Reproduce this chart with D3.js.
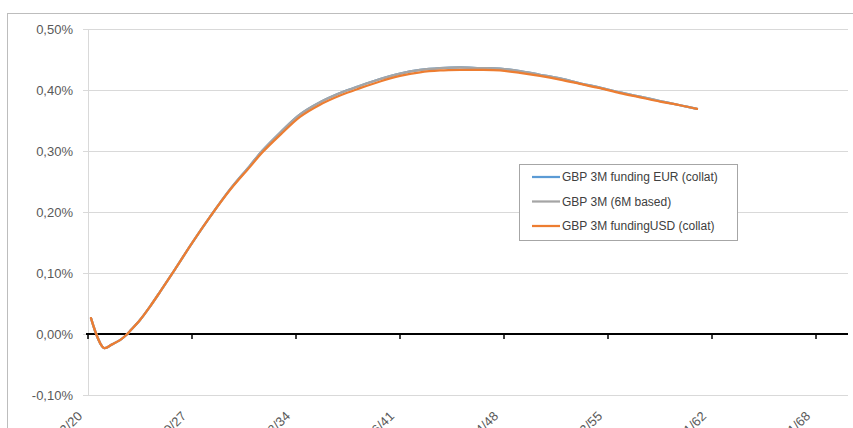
<!DOCTYPE html>
<html><head><meta charset="utf-8">
<script src="https://cdn.jsdelivr.net/npm/d3@7"></script>
<style>body{margin:0;background:#fff}svg{display:block}</style>
</head><body>
<script>
// x = days from first tick date (10/12/2020)
const days = [72,385,577,769,913,1010,1250,1490,1731,2091,2500,2933,3413,3894,4183,4615,5096,5577,6058,6538,7019,7500,7981,8462,8942,9423,9904,10385,10865,11346,11827,12308,12788,13269,13750,14231,14639];
const usdCollat = [0.026,-0.023,-0.017,-0.010,-0.002,0.005,0.023,0.045,0.069,0.106,0.149,0.192,0.236,0.274,0.297,0.326,0.356,0.376,0.391,0.403,0.414,0.423,0.429,0.432,0.433,0.433,0.432,0.428,0.423,0.417,0.410,0.403,0.395,0.388,0.381,0.375,0.369];
const eurCollat = [0.026,-0.023,-0.017,-0.010,-0.002,0.005,0.023,0.045,0.069,0.106,0.149,0.192,0.237,0.276,0.300,0.330,0.360,0.380,0.395,0.407,0.418,0.427,0.433,0.436,0.437,0.436,0.435,0.431,0.425,0.419,0.411,0.404,0.396,0.389,0.382,0.375,0.369];
const sixMBased = [0.026,-0.023,-0.017,-0.010,-0.002,0.005,0.023,0.045,0.069,0.106,0.149,0.192,0.237,0.276,0.300,0.330,0.360,0.380,0.395,0.407,0.418,0.427,0.433,0.436,0.437,0.436,0.435,0.431,0.425,0.419,0.411,0.404,0.396,0.389,0.382,0.375,0.369];
const seriesNames = ["GBP 3M funding EUR (collat)","GBP 3M (6M based)","GBP 3M fundingUSD (collat)"];
const seriesColors = ["#5b9bd5","#a5a5a5","#ed7d31"];
const yTicks = [-0.10,0.00,0.10,0.20,0.30,0.40,0.50];
const xTickDays = [0,2500,5000,7500,10000,12500,15000,17500];
const xTickLabels = ["10/12/20","15/10/27","19/08/34","23/06/41","27/04/48","02/03/55","04/01/62","08/11/68"];

const W=853,H=428;
const svg=d3.select("body").append("svg").attr("width",W).attr("height",H);
const font="Liberation Sans, Arial, sans-serif";
// outer chart border
svg.append("rect").attr("x",7.5).attr("y",13.5).attr("width",900).attr("height",500)
  .attr("fill","none").attr("stroke","#bdbdbd").attr("stroke-width",1);

const x=d3.scaleLinear().domain([0,18269]).range([88,848]);
const y=d3.scaleLinear().domain([-0.10,0.50]).range([395,29]);

// gridlines + y ticks
svg.append("g").selectAll("line").data(yTicks).join("line")
  .attr("x1",83).attr("x2",848).attr("y1",d=>Math.round(y(d))+0.5).attr("y2",d=>Math.round(y(d))+0.5)
  .attr("stroke","#d9d9d9").attr("stroke-width",1);
svg.append("line").attr("x1",88.5).attr("x2",88.5).attr("y1",y(0.5)).attr("y2",y(-0.1))
  .attr("stroke","#d9d9d9");
svg.append("g").selectAll("text").data(yTicks).join("text")
  .attr("x",73).attr("y",d=>y(d)+4.5).attr("text-anchor","end")
  .attr("font-family",font).attr("font-size",13).attr("fill","#595959")
  .text(d=>d.toFixed(2).replace(".",",")+"%");

// zero axis with ticks
const z=Math.round(y(0));
svg.append("line").attr("x1",86).attr("x2",848).attr("y1",z).attr("y2",z).attr("stroke","#000").attr("stroke-width",2);
svg.append("g").selectAll("line").data(xTickDays).join("line")
  .attr("x1",d=>x(d)).attr("x2",d=>x(d)).attr("y1",z).attr("y2",z+5)
  .attr("stroke","#000").attr("stroke-width",1.5);
svg.append("g").selectAll("text").data(xTickDays).join("text")
  .attr("transform",d=>`translate(${x(d)-5},${417}) rotate(-45)`)
  .attr("text-anchor","end").attr("font-family",font).attr("font-size",13).attr("fill","#595959")
  .text((d,i)=>xTickLabels[i]);

// lines
const line=d3.line().x((d,i)=>x(days[i])).y(d=>y(d)).curve(d3.curveCatmullRom.alpha(0.5));
[eurCollat,sixMBased,usdCollat].forEach((s,i)=>{
  svg.append("path").attr("d",line(s)).attr("fill","none").attr("stroke",seriesColors[i])
    .attr("stroke-width",2.25).attr("stroke-linejoin","round").attr("stroke-linecap","round");
});

// legend
const lg=svg.append("g");
lg.append("rect").attr("x",519.5).attr("y",164.5).attr("width",218).attr("height",76)
  .attr("fill","#fff").attr("stroke","#a6a6a6");
seriesNames.forEach((n,i)=>{
  const yy=177+i*24.5;
  lg.append("line").attr("x1",532).attr("x2",560).attr("y1",yy).attr("y2",yy)
    .attr("stroke",seriesColors[i]).attr("stroke-width",2.25);
  lg.append("text").attr("x",562).attr("y",yy+4).attr("font-family",font).attr("font-size",12)
    .attr("fill","#404040").text(n);
});
</script>
</body></html>
